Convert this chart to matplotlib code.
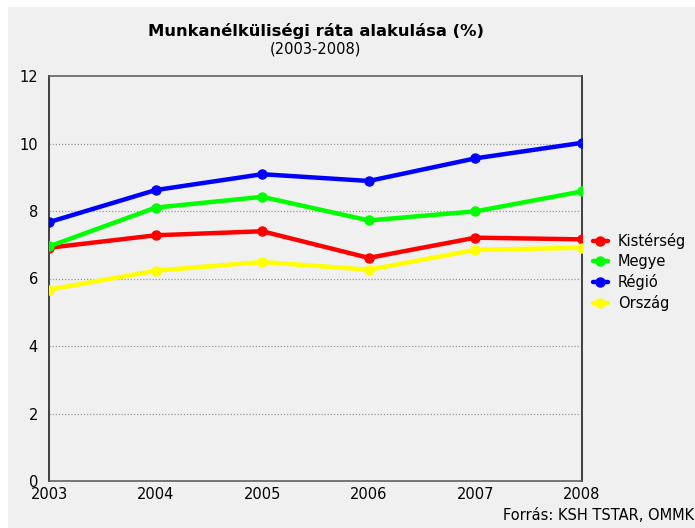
import matplotlib
matplotlib.use("Agg")
import matplotlib.pyplot as plt
from matplotlib.patches import Rectangle

plt.rcParams['font.family'] = ['DejaVu Sans']

years = [2003, 2004, 2005, 2006, 2007, 2008]
kisterseg = [6.91, 7.28, 7.40, 6.61, 7.21, 7.16]
megye = [6.95, 8.10, 8.42, 7.72, 7.99, 8.58]
regio = [7.67, 8.62, 9.09, 8.89, 9.56, 10.02]
orszag = [5.67, 6.23, 6.49, 6.26, 6.85, 6.91]

series_names = ['Kistérség', 'Megye', 'Régió', 'Ország']
series_colors = ['#ff0000', '#00ff00', '#0000ff', '#ffff00']
y_ticks = [0, 2, 4, 6, 8, 10, 12]

bg = '#f0f0f0'
W, H = 695, 528
fig = plt.figure(figsize=(W / 100, H / 100), dpi=100, facecolor='white')

# szürke háttér, fehér kerettel (felül és balra)
fig.patches.append(Rectangle((8 / W, 0), 1 - 8 / W, 1 - 7 / H,
                             transform=fig.transFigure, facecolor=bg,
                             edgecolor='none', zorder=-5))

ax = fig.add_axes([49 / W, 1 - 481 / H, (582 - 49) / W, (481 - 76) / H])
ax.set_facecolor(bg)
ax.set_zorder(1)

for vals, name, col in zip([kisterseg, megye, regio, orszag], series_names, series_colors):
    ax.plot(years, vals, color=col, linewidth=3.2, marker='o', markersize=6.5,
            label=name, solid_capstyle='round', zorder=3)

ax.set_xlim(years[0], years[-1])
ax.set_ylim(0, 12)
ax.set_xticks(years)
ax.set_yticks(y_ticks)
ax.tick_params(length=0, labelsize=10.5, colors='black')
ax.tick_params(axis='y', pad=8)
ax.tick_params(axis='x', pad=4)

for y in y_ticks[1:-1]:
    ax.axhline(y, color='#999999', linewidth=0.9, linestyle=(0, (1, 1.5)), zorder=1)

for side in ['left', 'right']:
    ax.spines[side].set_color('#404040')
    ax.spines[side].set_linewidth(1.4)
for side in ['top', 'bottom']:
    ax.spines[side].set_color('#555555')
    ax.spines[side].set_linewidth(1.1)
    ax.spines[side].set_linestyle((0, (1, 1)))

fig.text(315.5 / W, 1 - 35.7 / H, 'Munkanélküliségi ráta alakulása (%)',
         ha='center', va='baseline', fontsize=11.8, fontweight='bold')
fig.text(315.5 / W, 1 - 54 / H, '(2003-2008)', ha='center', va='baseline', fontsize=10.5)

fig.legend(loc='upper left', bbox_to_anchor=(593 / W, 1 - 233 / H),
           bbox_transform=fig.transFigure, frameon=False, fontsize=10.5,
           handlelength=1.0, handletextpad=0.7, labelspacing=0.35,
           borderpad=0, borderaxespad=0, markerscale=1.0)

fig.text(694 / W, 1 - 520 / H, 'Forrás: KSH TSTAR, OMMK', ha='right', va='baseline',
         fontsize=10.5)

fig.savefig('out.png', dpi=100, facecolor=fig.get_facecolor())
